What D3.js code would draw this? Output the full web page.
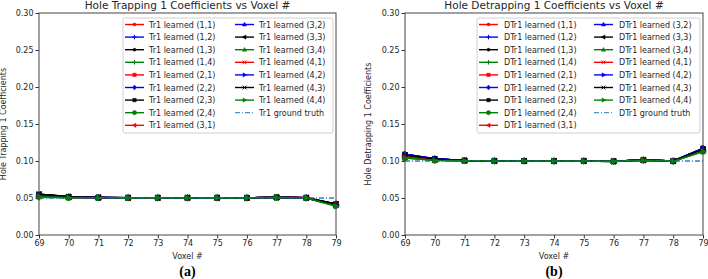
<meta charset="utf-8">
<style>
  body { margin: 0; background: #fff; }
  text { font-family: "DejaVu Sans", sans-serif; fill: #262626; }
  .tick text { font-size: 8px; }
  .frame { fill: none; stroke: #444; stroke-width: 1px; }
  .leg { font-size: 8px; }
  .cap { font-family: "Liberation Serif", serif; font-weight: bold; font-size: 14px; fill: #000; }
</style>
<script src="https://cdn.jsdelivr.net/npm/d3@7"></script>
<svg id="chart" width="708" height="279"></svg>
<script>
  var voxels = [69, 70, 71, 72, 73, 74, 75, 76, 77, 78, 79];
  var yTicks = [0, 0.05, 0.10, 0.15, 0.20, 0.25, 0.30];
  var pairs = ["(1,1)", "(1,2)", "(1,3)", "(1,4)", "(2,1)", "(2,2)", "(2,3)", "(2,4)",
               "(3,1)", "(3,2)", "(3,3)", "(3,4)", "(4,1)", "(4,2)", "(4,3)", "(4,4)"];
  var colors = ["red", "blue", "black", "green"];
  var markers = ["point", "plus", "point", "plus", "square", "diamond", "square", "circle",
                 "left", "up", "left", "up", "x", "right", "x", "right"];

  // learned trapping coefficients, one row per (i,j)
  var tr1 = [
    [0.053, 0.051, 0.0505, 0.0503, 0.0503, 0.0502, 0.0503, 0.0502, 0.0508, 0.0502, 0.041],
    [0.052, 0.0508, 0.0503, 0.0502, 0.0502, 0.0502, 0.0502, 0.0501, 0.0507, 0.0501, 0.040],
    [0.055, 0.052, 0.0507, 0.0504, 0.0503, 0.0503, 0.0503, 0.0502, 0.0509, 0.0503, 0.041],
    [0.051, 0.0505, 0.0502, 0.0501, 0.0501, 0.0501, 0.0501, 0.0500, 0.0506, 0.0500, 0.040],
    [0.053, 0.0512, 0.0505, 0.0503, 0.0502, 0.0502, 0.0502, 0.0501, 0.0508, 0.0502, 0.041],
    [0.054, 0.0515, 0.0506, 0.0503, 0.0503, 0.0503, 0.0503, 0.0502, 0.0509, 0.0502, 0.042],
    [0.055, 0.0518, 0.0507, 0.0504, 0.0503, 0.0503, 0.0503, 0.0502, 0.0509, 0.0503, 0.041],
    [0.052, 0.0507, 0.0503, 0.0502, 0.0502, 0.0501, 0.0502, 0.0501, 0.0507, 0.0501, 0.040],
    [0.053, 0.051, 0.0504, 0.0502, 0.0502, 0.0502, 0.0502, 0.0501, 0.0508, 0.0502, 0.041],
    [0.054, 0.0512, 0.0505, 0.0503, 0.0502, 0.0502, 0.0502, 0.0501, 0.0508, 0.0502, 0.041],
    [0.055, 0.0517, 0.0506, 0.0503, 0.0503, 0.0503, 0.0503, 0.0502, 0.0509, 0.0503, 0.042],
    [0.052, 0.0506, 0.0503, 0.0502, 0.0502, 0.0501, 0.0502, 0.0501, 0.0507, 0.0501, 0.040],
    [0.053, 0.051, 0.0504, 0.0502, 0.0502, 0.0502, 0.0502, 0.0501, 0.0508, 0.0502, 0.041],
    [0.054, 0.0513, 0.0505, 0.0503, 0.0502, 0.0502, 0.0502, 0.0501, 0.0508, 0.0502, 0.041],
    [0.055, 0.0516, 0.0506, 0.0503, 0.0503, 0.0503, 0.0503, 0.0502, 0.0509, 0.0503, 0.042],
    [0.052, 0.0506, 0.0503, 0.0502, 0.0502, 0.0501, 0.0502, 0.0501, 0.0507, 0.0501, 0.039]
  ];
  var tr1Truth = 0.05;

  // learned detrapping coefficients
  var dtr1 = [
    [0.107, 0.102, 0.1005, 0.1001, 0.1, 0.1, 0.1, 0.0996, 0.1012, 0.0999, 0.115],
    [0.108, 0.1025, 0.1006, 0.1001, 0.1, 0.1, 0.1, 0.0996, 0.1013, 0.0999, 0.116],
    [0.109, 0.103, 0.1007, 0.1002, 0.1001, 0.1, 0.1001, 0.0997, 0.1014, 0.1, 0.117],
    [0.105, 0.101, 0.1003, 0.1, 0.1, 0.0999, 0.1, 0.0995, 0.1011, 0.0998, 0.114],
    [0.107, 0.102, 0.1005, 0.1001, 0.1, 0.1, 0.1, 0.0996, 0.1012, 0.0999, 0.115],
    [0.109, 0.1028, 0.1007, 0.1002, 0.1001, 0.1, 0.1001, 0.0997, 0.1014, 0.1, 0.117],
    [0.108, 0.1027, 0.1006, 0.1001, 0.1, 0.1, 0.1, 0.0996, 0.1013, 0.0999, 0.116],
    [0.104, 0.101, 0.1003, 0.1, 0.1, 0.0999, 0.1, 0.0995, 0.1011, 0.0998, 0.113],
    [0.106, 0.1015, 0.1004, 0.1001, 0.1, 0.1, 0.1, 0.0996, 0.1012, 0.0999, 0.115],
    [0.109, 0.103, 0.1007, 0.1002, 0.1001, 0.1, 0.1001, 0.0997, 0.1014, 0.1, 0.117],
    [0.108, 0.1026, 0.1006, 0.1001, 0.1, 0.1, 0.1, 0.0996, 0.1013, 0.0999, 0.116],
    [0.105, 0.101, 0.1003, 0.1, 0.1, 0.0999, 0.1, 0.0995, 0.1011, 0.0998, 0.114],
    [0.106, 0.1016, 0.1004, 0.1001, 0.1, 0.1, 0.1, 0.0996, 0.1012, 0.0999, 0.115],
    [0.109, 0.1029, 0.1007, 0.1002, 0.1001, 0.1, 0.1001, 0.0997, 0.1014, 0.1, 0.117],
    [0.108, 0.1026, 0.1006, 0.1001, 0.1, 0.1, 0.1, 0.0996, 0.1013, 0.0999, 0.116],
    [0.104, 0.101, 0.1003, 0.1, 0.1, 0.0999, 0.1, 0.0995, 0.1011, 0.0998, 0.113]
  ];
  var dtr1Truth = 0.10;

  var svg = d3.select("#chart");

  function markerPath(type, r) {
    switch (type) {
      case "point": return d3.symbol(d3.symbolCircle, Math.PI * r * r * 0.6)();
      case "circle": return d3.symbol(d3.symbolCircle, Math.PI * r * r * 1.3)();
      case "square": return d3.symbol(d3.symbolSquare, 3.2 * r * r)();
      case "diamond": return "M0," + (-r * 1.3) + "L" + r + ",0L0," + (r * 1.3) + "L" + (-r) + ",0Z";
      case "up": return "M0," + (-r * 1.2) + "L" + (r * 1.1) + "," + (r * 0.8) + "L" + (-r * 1.1) + "," + (r * 0.8) + "Z";
      case "left": return "M" + (-r * 1.2) + ",0L" + (r * 0.8) + "," + (-r * 1.1) + "L" + (r * 0.8) + "," + (r * 1.1) + "Z";
      case "right": return "M" + (r * 1.2) + ",0L" + (-r * 0.8) + "," + (-r * 1.1) + "L" + (-r * 0.8) + "," + (r * 1.1) + "Z";
      case "plus": return "M" + (-r * 1.2) + ",0H" + (r * 1.2) + "M0," + (-r * 1.2) + "V" + (r * 1.2);
      case "x": return "M" + (-r) + "," + (-r) + "L" + r + "," + r + "M" + (-r) + "," + r + "L" + r + "," + (-r);
    }
  }
  function isLine(type) { return type === "plus" || type === "x"; }

  function drawPanel(o) {
    var g = svg.append("g");
    var x = d3.scaleLinear().domain([69, 79]).range([o.left, o.right]);
    var y = d3.scaleLinear().domain([0, 0.30]).range([235, 13]);

    g.append("text").attr("x", (o.left + o.right) / 2).attr("y", 9)
      .attr("text-anchor", "middle").style("font-size", "10.5px").text(o.title);

    var xAxis = g.append("g").attr("transform", "translate(0,235)")
      .call(d3.axisBottom(x).tickValues(voxels).tickFormat(d3.format("d")).tickSize(3.5).tickPadding(2));
    var yAxis = g.append("g").attr("transform", "translate(" + o.left + ",0)")
      .call(d3.axisLeft(y).tickValues(yTicks).tickFormat(d3.format(".2f")).tickSize(3.5).tickPadding(2));
    [xAxis, yAxis].forEach(function (a) {
      a.select(".domain").remove();
      a.selectAll(".tick line").attr("stroke", "#333");
      a.selectAll(".tick text").attr("fill", "#262626");
    });

    g.append("text").attr("x", (o.left + o.right) / 2).attr("y", 259)
      .attr("text-anchor", "middle").style("font-size", "8px").text("Voxel #");
    g.append("text").attr("transform", "translate(" + o.ylabX + "," + 124 + ") rotate(-90)")
      .attr("text-anchor", "middle").style("font-size", "8px").text(o.ylabel);
    g.append("text").attr("class", "cap").attr("x", (o.left + o.right) / 2).attr("y", 276)
      .attr("text-anchor", "middle").text(o.cap);

    var line = d3.line().x(function (d, i) { return x(voxels[i]); }).y(function (d) { return y(d); });
    var plot = g.append("g");

    plot.append("line").attr("x1", x(69)).attr("x2", x(79))
      .attr("y1", y(o.truth)).attr("y2", y(o.truth))
      .attr("stroke", "#1f77b4").attr("stroke-width", 1).attr("stroke-dasharray", "5,2,1,2");

    o.data.forEach(function (vals, k) {
      var c = colors[k % 4];
      plot.append("path").datum(vals).attr("d", line)
        .attr("fill", "none").attr("stroke", c).attr("stroke-width", 1.6);
      plot.selectAll(null).data(vals).enter().append("path")
        .attr("transform", function (d, i) { return "translate(" + x(voxels[i]) + "," + y(d) + ")"; })
        .attr("d", markerPath(markers[k], 2.6))
        .attr("fill", isLine(markers[k]) ? "none" : c)
        .attr("stroke", c).attr("stroke-width", isLine(markers[k]) ? 1.2 : 0.6);
    });
    // truth line drawn again on top where lines overlap
    plot.append("line").attr("x1", x(69)).attr("x2", x(79))
      .attr("y1", y(o.truth)).attr("y2", y(o.truth))
      .attr("stroke", "#1f77b4").attr("stroke-width", 1).attr("stroke-dasharray", "5,2,1,2")
      .attr("opacity", 0.8);

    g.append("rect").attr("class", "frame")
      .attr("x", o.left).attr("y", 13).attr("width", o.right - o.left).attr("height", 222);

    // legend
    var lg = g.append("g");
    lg.append("rect").attr("x", o.legX).attr("y", 18).attr("width", o.legW).attr("height", 115)
      .attr("rx", 2).attr("fill", "#fff").attr("fill-opacity", 0.8).attr("stroke", "#d0d0d0");
    var items = pairs.map(function (p, k) {
      return { label: o.prefix + " learned " + p, color: colors[k % 4], marker: markers[k] };
    });
    items.push({ label: o.prefix + " ground truth", truth: true });
    items.forEach(function (it, k) {
      var col = k < 9 ? 0 : 1, row = k < 9 ? k : k - 9;
      var hx = o.legX + 2 + col * o.colW, hy = 24.5 + row * 12.6;
      var e = lg.append("g");
      if (it.truth) {
        e.append("line").attr("x1", hx).attr("x2", hx + 19).attr("y1", hy).attr("y2", hy)
          .attr("stroke", "#1f77b4").attr("stroke-width", 1).attr("stroke-dasharray", "5,2,1,2");
      } else {
        e.append("line").attr("x1", hx).attr("x2", hx + 19).attr("y1", hy).attr("y2", hy)
          .attr("stroke", it.color).attr("stroke-width", 1.4);
        e.append("path").attr("transform", "translate(" + (hx + 9.5) + "," + hy + ")")
          .attr("d", markerPath(it.marker, 1.9))
          .attr("fill", isLine(it.marker) ? "none" : it.color)
          .attr("stroke", it.color).attr("stroke-width", isLine(it.marker) ? 1 : 0.5);
      }
      e.append("text").attr("class", "leg").attr("x", hx + o.txtOff).attr("y", hy + 3).text(it.label);
    });
  }

  drawPanel({ left: 39, right: 336, title: "Hole Trapping 1 Coefficients vs Voxel #",
    ylabel: "Hole Trapping 1 Coefficients", ylabX: 6, cap: "(a)", prefix: "Tr1",
    data: tr1, truth: tr1Truth, legX: 123, legW: 210, colW: 110, txtOff: 24 });
  drawPanel({ left: 405, right: 703, title: "Hole Detrapping 1 Coefficients vs Voxel #",
    ylabel: "Hole Detrapping 1 Coefficients", ylabX: 371, cap: "(b)", prefix: "DTr1",
    data: dtr1, truth: dtr1Truth, legX: 477, legW: 223, colW: 115, txtOff: 25 });
</script>
